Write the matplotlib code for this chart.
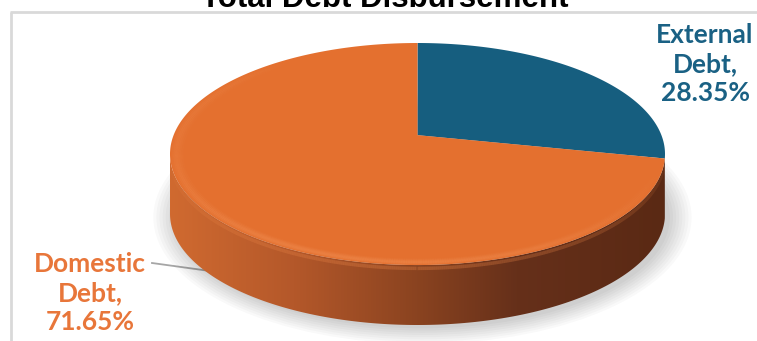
import numpy as np
import matplotlib
matplotlib.use("Agg")
import matplotlib.pyplot as plt
from matplotlib.patches import Polygon, Ellipse
from matplotlib.collections import LineCollection
from matplotlib.colors import LinearSegmentedColormap, to_rgba

# data
categories = ["External Debt", "Domestic Debt"]
shares = [28.35, 71.65]
label_texts = ["External\nDebt,\n28.35%", "Domestic\nDebt,\n71.65%"]
title = "Total Debt Disbursement"

TOP_COLORS = ["#165E7F", "#E4702F"]
LABEL_COLORS = ["#1A6184", "#E8763A"]
SIDE_CMAPS = [
    LinearSegmentedColormap.from_list("blue_side", ["#1B5370", "#0E3346"]),
    LinearSegmentedColormap.from_list(
        "orange_side",
        [(0.0, "#D06A30"), (0.25, "#B4582A"), (0.5, "#8A4320"),
         (0.7, "#66301A"), (1.0, "#5A2914")],
    ),
]

W, H = 757, 341
DEPTH = 0.54   # side height in units of the ellipse half-height
TILT = 0.17    # how far the disc centre sits above the ellipse centre


def project(x, y):
    # perspective-like map of the unit disc onto itself, centre -> (0, TILT)
    den = 1 + TILT * y
    return x * np.sqrt(1 - TILT ** 2) / den, (y + TILT) / den


fig = plt.figure(figsize=(W / 100, H / 100), dpi=100)

# background axes in pixel coords (frame, title, labels)
bg = fig.add_axes([0, 0, 1, 1])
bg.set_xlim(0, W)
bg.set_ylim(H, 0)
bg.axis("off")
bg.plot([11, 11], [12, H], color="#D9D9D9", lw=2, solid_capstyle="butt")
bg.plot([10, W], [12, 12], color="#D9D9D9", lw=2, solid_capstyle="butt")
bg.text(385, 7, title, ha="center", va="baseline", fontsize=22.5,
        fontweight="bold", family="Liberation Sans", color="black")

# pie axes, unit circle maps onto the ellipse of the top face
pa = fig.add_axes([170 / W, 16 / H, 495 / W, 282 / H])

# soft shadow under the disc
for i in range(8):
    pa.add_patch(Ellipse((0.02, -DEPTH - 0.03), 2.0 + 0.025 * i, 2.0 + 0.04 * i,
                         facecolor="black", edgecolor="none", alpha=0.022,
                         zorder=0, clip_on=False))

# wedge angle ranges (clockwise from 12 o'clock), in disc angles
cum = np.cumsum([0] + shares) / sum(shares) * 360
for i in range(len(shares)):
    a_hi = 90 - cum[i]
    a_lo = 90 - cum[i + 1]

    # top face wedge
    t = np.radians(np.linspace(a_lo, a_hi, 300))
    ux, uy = project(np.cos(t), np.sin(t))
    cx, cy = project(0.0, 0.0)
    pts = np.column_stack([np.r_[cx, ux], np.r_[cy, uy]])
    pa.add_patch(Polygon(pts, closed=True, facecolor=TOP_COLORS[i],
                         edgecolor="none", zorder=2))

    # side of the wedge, using the projected rim angles
    px, py = project(np.cos(np.radians([a_lo, a_hi])), np.sin(np.radians([a_lo, a_hi])))
    s_lo = np.degrees(np.arctan2(py[0], px[0]))
    s_hi = np.degrees(np.arctan2(py[1], px[1]))
    while s_hi <= s_lo:
        s_hi += 360
    for shift in (-720, -360, 0, 360):
        lo = max(s_lo + shift, 180)
        hi = min(s_hi + shift, 360)
        if hi <= lo:
            continue
        t = np.radians(np.linspace(lo, hi, 200))
        xs, ys = np.cos(t), np.sin(t)
        side = np.concatenate([np.column_stack([xs, ys]),
                               np.column_stack([xs[::-1], ys[::-1] - DEPTH])])
        poly = Polygon(side, closed=True, facecolor="none", edgecolor="none")
        pa.add_patch(poly)
        grad = np.linspace(0, 1, 256).reshape(1, -1)
        im = pa.imshow(grad, cmap=SIDE_CMAPS[i], extent=(-1, 1, -1 - DEPTH, 0),
                       aspect="auto", zorder=1, interpolation="bilinear")
        im.set_clip_path(poly)


def soft_arc(r, a0, a1, color, lw, alpha, dy=0.0, z=3):
    t = np.radians(np.linspace(a0, a1, 400))
    x, y = r * np.cos(t), r * np.sin(t) + dy
    segs = np.stack([np.column_stack([x[:-1], y[:-1]]),
                     np.column_stack([x[1:], y[1:]])], axis=1)
    mid = (t[:-1] + t[1:]) / 2
    fade = np.sin(np.pi * (mid - mid[0]) / (mid[-1] - mid[0])) ** 0.7
    cols = np.array([to_rgba(color, alpha * f) for f in fade])
    pa.add_collection(LineCollection(segs, colors=cols, linewidths=lw,
                                     zorder=z, capstyle="butt"))


# bevel highlight along the rim of the top face (soft, several passes)
for r, a in [(0.99, 0.10), (0.982, 0.18), (0.974, 0.22), (0.966, 0.18),
             (0.958, 0.12), (0.95, 0.07)]:
    soft_arc(r, 120, 352, "#F7995F", 1.6, a)
# light band at the top of the side
soft_arc(1.0, 181, 359, "#F08A4A", 2.5, 0.3, dy=-0.03)

pa.set_aspect("auto")
pa.set_xlim(-1, 1)
pa.set_ylim(-1 - DEPTH, 1)
pa.axis("off")

# labels
bg.text(705, 64, label_texts[0], ha="center", va="center", fontsize=19,
        fontweight="bold", family="Lato", color=LABEL_COLORS[0], linespacing=1.25)
bg.text(90, 293, label_texts[1], ha="center", va="center", fontsize=19,
        fontweight="bold", family="Lato", color=LABEL_COLORS[1], linespacing=1.25)
bg.plot([152, 210], [263, 271], color="#A6A6A6", lw=1.3)

fig.savefig("out.png", dpi=100)
